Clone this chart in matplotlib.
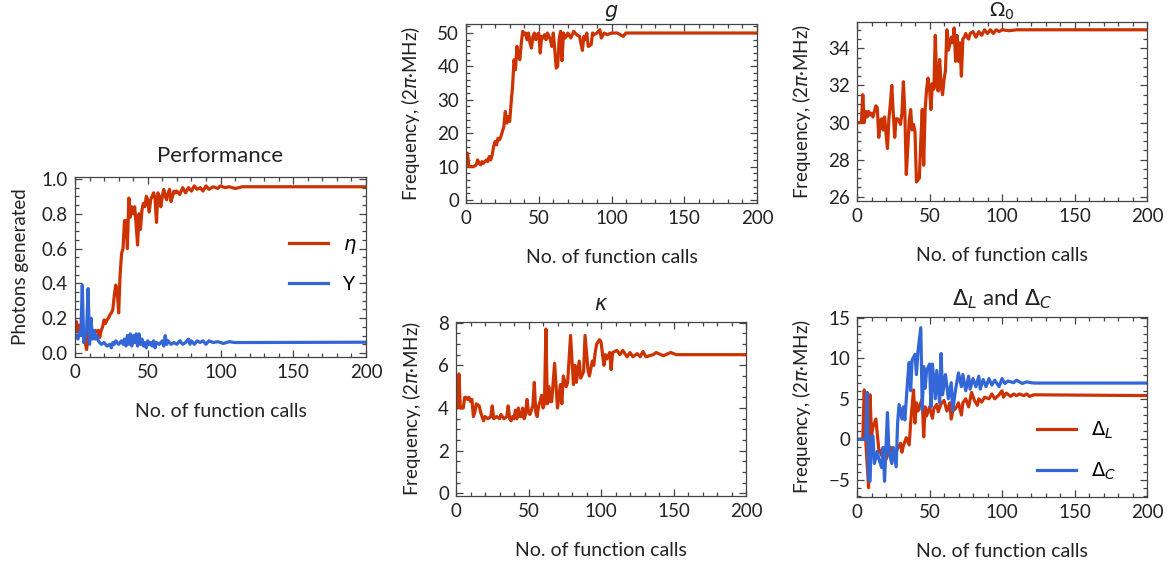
import numpy as np
import matplotlib.pyplot as plt
from matplotlib.ticker import MultipleLocator

plt.rcParams['font.family'] = ['Lato', 'DejaVu Sans']
plt.rcParams['mathtext.fontset'] = 'dejavusans'

RED = '#CC3300'
BLUE = '#3366D6'

# ---- Performance ----
eta_x = [0, 1, 2, 3, 4, 5, 6, 8, 9, 10, 11, 12, 13, 14, 15, 16, 17, 18, 19, 20,
         21, 22, 23, 24, 25, 26, 27, 28, 29, 30, 31, 32, 33, 34, 35, 36, 37, 38, 39, 40,
         41, 42, 43, 44, 45, 46, 47, 48, 49, 50, 51, 52, 53, 54, 55, 56, 57, 58, 59, 60,
         61, 62, 63, 64, 65, 66, 67, 68, 69, 70, 72, 74, 76, 78, 80, 82, 84, 86, 88, 90,
         92, 95, 98, 100, 103, 106, 110, 115, 200]
eta_y = [0.12, 0.18, 0.12, 0.16, 0.11, 0.13, 0.10, 0.02, 0.12, 0.10, 0.13, 0.12, 0.11, 0.13, 0.12, 0.13, 0.09, 0.13, 0.15, 0.19,
         0.17, 0.19, 0.20, 0.22, 0.23, 0.25, 0.33, 0.39, 0.36, 0.23, 0.45, 0.57, 0.60, 0.76, 0.76, 0.60, 0.89, 0.78, 0.84, 0.80,
         0.84, 0.74, 0.62, 0.80, 0.71, 0.82, 0.86, 0.84, 0.90, 0.88, 0.81, 0.88, 0.90, 0.92, 0.89, 0.75, 0.92, 0.90, 0.84, 0.90,
         0.94, 0.90, 0.88, 0.92, 0.94, 0.87, 0.90, 0.93, 0.92, 0.93, 0.91, 0.95, 0.92, 0.95, 0.93, 0.96, 0.94, 0.95, 0.93, 0.96,
         0.94, 0.955, 0.945, 0.96, 0.95, 0.955, 0.945, 0.955, 0.955]

Y_x = [0, 1, 2, 3, 4, 5, 6, 7, 8, 9, 10, 11, 12, 13, 14, 15, 16, 17, 18, 20,
       22, 24, 25, 26, 27, 28, 30, 32, 33, 34, 35, 36, 37, 38, 39, 40, 41, 42, 43, 44,
       45, 46, 47, 48, 49, 50, 51, 52, 53, 54, 55, 56, 58, 60, 61, 62, 63, 64, 66, 68,
       70, 72, 74, 76, 78, 79, 80, 82, 84, 86, 88, 90, 92, 95, 98, 102, 106, 110, 200]
Y_y = [0.09, 0.10, 0.08, 0.12, 0.10, 0.39, 0.06, 0.10, 0.14, 0.37, 0.05, 0.20, 0.08, 0.13, 0.08, 0.10, 0.07, 0.06, 0.05, 0.06,
       0.04, 0.05, 0.03, 0.06, 0.05, 0.07, 0.05, 0.07, 0.05, 0.08, 0.04, 0.10, 0.05, 0.11, 0.04, 0.10, 0.06, 0.11, 0.04, 0.11,
       0.05, 0.08, 0.04, 0.06, 0.03, 0.07, 0.05, 0.06, 0.04, 0.07, 0.03, 0.06, 0.05, 0.07, 0.04, 0.10, 0.05, 0.07, 0.05, 0.06,
       0.05, 0.07, 0.05, 0.06, 0.08, 0.05, 0.07, 0.05, 0.07, 0.06, 0.07, 0.05, 0.07, 0.06, 0.065, 0.055, 0.065, 0.06, 0.062]

# ---- g ----
g_x = [0, 1, 2, 3, 4, 5, 6, 7, 8, 9, 10, 11, 12, 13, 14, 15, 16, 17, 18, 19,
       20, 21, 22, 23, 24, 25, 26, 27, 28, 29, 30, 31, 32, 33, 34, 35, 36, 37, 38, 39,
       40, 41, 42, 43, 44, 45, 46, 47, 48, 49, 50, 51, 52, 53, 54, 55, 56, 57, 58, 59,
       60, 61, 62, 63, 64, 65, 66, 67, 68, 69, 70, 72, 74, 76, 78, 80, 81, 82, 83, 84,
       86, 87, 88, 90, 92, 93, 95, 97, 100, 104, 108, 110, 115, 200]
g_y = [14, 14, 10, 10, 10, 10, 10.2, 10.5, 12, 11, 10.5, 11.5, 11, 11.5, 12, 11.5, 13, 12, 13.5, 16,
       17.5, 16.5, 18.5, 18, 19, 20.5, 22, 26.5, 23, 25, 23.5, 29, 34, 42, 39, 46, 43, 42, 47, 50.5,
       49.5, 50, 48, 50, 47, 45.5, 49, 50, 48, 49.5, 50, 44, 49, 48.5, 49.5, 48, 50, 49, 48, 46,
       50, 45, 39.5, 40, 48, 50.5, 41.7, 50, 48.5, 49, 50, 48.5, 50.5, 49.5, 49, 44.8, 49, 48, 50, 46,
       46.5, 50, 49.5, 50, 51, 48.5, 50, 49.5, 50, 50, 49, 50, 50, 50]

# ---- Omega_0 ----
om_x = [0, 3, 4, 5, 6, 7, 8, 9, 10, 11, 12, 13, 14, 15, 16, 17, 18, 19, 20, 21,
        22, 23, 24, 25, 26, 27, 28, 29, 30, 31, 32, 33, 34, 35, 36, 37, 38, 39, 40, 41,
        42, 43, 44, 45, 46, 47, 48, 49, 50, 51, 52, 53, 54, 55, 56, 57, 58, 59, 60, 61,
        62, 63, 64, 65, 66, 67, 68, 69, 70, 71, 72, 73, 74, 75, 76, 77, 78, 80, 82, 84,
        86, 88, 90, 92, 94, 96, 98, 100, 105, 110, 120, 200]
om_y = [30.0, 30.0, 31.5, 30.0, 30.6, 30.3, 30.6, 30.4, 30.5, 30.3, 30.6, 30.9, 30.8, 29.2, 30.1, 30.2, 29.6, 30.3, 29.4, 28.6,
        30.2, 31.0, 32.0, 30.5, 29.2, 30.2, 30.2, 30.1, 29.9, 30.5, 32.2, 30.5, 27.2, 28.6, 30.1, 30.7, 29.6, 29.9, 29.5, 26.8,
        26.9, 27.0, 29.0, 30.7, 27.7, 30.7, 31.8, 32.4, 31.9, 30.7, 32.1, 31.8, 34.7, 32.0, 31.7, 33.4, 32.0, 31.5, 32.3, 32.8,
        35.0, 33.9, 34.2, 34.6, 34.3, 35.1, 33.3, 34.7, 33.3, 34.3, 32.5, 34.5, 34.6, 34.8, 34.6, 34.5, 34.8, 34.9, 34.6, 34.9,
        34.7, 35.0, 34.8, 35.0, 34.8, 35.0, 34.9, 35.0, 34.95, 35.0, 35.0, 35.0]

# ---- kappa ----
ka_x = [0, 1, 2, 3, 5, 6, 7, 8, 9, 10, 11, 12, 13, 14, 16, 17, 18, 19, 20, 22,
        24, 25, 26, 28, 30, 31, 32, 33, 35, 36, 37, 38, 39, 40, 41, 42, 43, 44, 45, 46,
        47, 48, 49, 50, 51, 52, 53, 54, 55, 56, 57, 58, 59, 60, 61, 62, 63, 64, 65, 66,
        68, 70, 72, 73, 74, 76, 77, 79, 81, 82, 83, 85, 86, 88, 89, 91, 92, 94, 95, 96,
        97, 99, 100, 102, 103, 104, 106, 107, 108, 111, 113, 115, 118, 120, 122, 125, 127, 129, 131, 136,
        138, 143, 148, 152, 200]
ka_y = [4.0, 4.0, 5.6, 4.0, 4.0, 4.5, 4.5, 4.4, 4.5, 4.3, 4.4, 3.6, 3.8, 4.2, 4.1, 3.8, 3.6, 3.4, 3.6, 3.5,
        3.6, 4.1, 3.5, 3.6, 3.5, 3.7, 3.6, 3.5, 3.6, 4.1, 3.5, 3.4, 3.6, 3.5, 3.9, 3.5, 4.0, 3.6, 3.6, 4.0,
        3.5, 3.7, 4.4, 3.8, 3.7, 3.9, 4.1, 5.2, 3.8, 3.6, 4.1, 4.3, 4.6, 4.0, 4.2, 7.7, 4.2, 5.0, 4.3, 4.3,
        6.1, 4.0, 5.1, 4.2, 5.5, 5.0, 5.2, 7.4, 5.1, 6.0, 5.2, 6.2, 5.4, 5.7, 7.4, 5.8, 5.5, 6.2, 6.0, 6.6,
        7.0, 7.2, 7.1, 6.0, 6.5, 6.3, 6.6, 5.8, 6.6, 6.7, 6.5, 6.7, 6.4, 6.6, 6.4, 6.55, 6.4, 6.65, 6.4, 6.5,
        6.6, 6.45, 6.6, 6.5, 6.5]

# ---- Delta_L / Delta_C ----
dl_x = [0, 4, 5, 6, 8, 9, 10, 11, 13, 15, 16, 17, 18, 20, 23, 25, 27, 30, 31, 32,
        34, 36, 37, 39, 40, 41, 42, 43, 45, 46, 47, 48, 50, 52, 53, 55, 56, 58, 60, 62,
        64, 65, 66, 68, 70, 72, 73, 75, 77, 79, 81, 83, 84, 86, 88, 91, 93, 95, 98, 100,
        101, 103, 106, 108, 110, 112, 115, 117, 119, 122, 200]
dl_y = [0, 0, 6.1, 0, -6.0, 5.5, 0.5, 1.5, 2.5, -1.2, -1.5, -2.0, -1.5, -2.5, -1.0, -2.0, -1.5, -0.5, -1.6, -0.8,
        0.2, -0.7, 2.0, 6.1, 2.0, 4.5, 3.5, 4.0, 5.0, 0.3, 4.0, 2.9, 4.0, 2.6, 3.8, 4.3, 3.4, 4.4, 4.8, 3.5,
        4.5, 2.5, 3.5, 3.8, 4.5, 3.0, 4.5, 5.0, 4.0, 5.8, 4.8, 4.2, 5.0, 4.6, 5.2, 5.0, 5.6, 5.0, 5.5, 6.0,
        5.2, 5.7, 5.3, 5.6, 5.4, 5.6, 5.4, 5.6, 5.3, 5.5, 5.4]

dc_x = [0, 6, 7, 8, 9, 10, 11, 12, 14, 15, 17, 18, 19, 21, 22, 24, 25, 27, 28, 29,
        31, 32, 33, 35, 36, 37, 38, 40, 41, 42, 44, 45, 46, 47, 48, 50, 51, 52, 54, 55,
        57, 58, 59, 61, 63, 65, 66, 68, 70, 72, 73, 75, 77, 78, 80, 82, 84, 85, 87, 89,
        91, 93, 95, 98, 100, 102, 104, 108, 110, 114, 117, 120, 122, 200]
dc_y = [0, 0, 5.8, -5.0, -5.2, 0.4, 0.4, -3.0, -1.5, -2.4, -3.5, -1.0, -5.2, 3.3, -1.5, -3.0, -1.0, -3.4, 2.0, 4.3,
        2.5, 4.0, 2.4, 7.5, 9.5, 6.0, 9.8, 10.5, 8.0, 10.8, 13.8, 3.6, 9.0, 6.3, 8.5, 9.3, 4.0, 9.3, 5.0, 8.5,
        4.5, 10.6, 5.5, 8.0, 5.0, 7.0, 3.5, 6.2, 8.2, 6.5, 8.0, 6.0, 7.8, 6.2, 7.5, 6.5, 7.8, 6.2, 7.4, 6.5,
        7.5, 6.7, 7.3, 6.5, 7.5, 6.9, 7.2, 7.0, 7.3, 6.9, 7.1, 7.0, 6.95, 6.95]

freq_label = 'Frequency, (2$\\pi$\u00b7MHz)'

fig = plt.figure(figsize=(11.75, 5.7), dpi=100)
W, H = 1175, 570


def make_ax(left, top, right, bottom):
    return fig.add_axes([left / W, 1 - bottom / H, (right - left) / W, (bottom - top) / H])


def style(ax, ylim, ymaj, ymin):
    ax.set_xlim(0, 200)
    ax.set_ylim(*ylim)
    ax.xaxis.set_major_locator(MultipleLocator(50))
    ax.xaxis.set_minor_locator(MultipleLocator(10))
    ax.yaxis.set_major_locator(MultipleLocator(ymaj))
    ax.yaxis.set_minor_locator(MultipleLocator(ymin))
    ax.tick_params(which='both', direction='in', top=True, right=True,
                   color='#444444', width=0.9, labelsize=13.5, labelcolor='#222222', pad=5)
    ax.tick_params(which='major', length=5)
    ax.tick_params(which='minor', length=3)
    for s in ax.spines.values():
        s.set_color('#444444')
        s.set_linewidth(0.9)
    ax.set_xlabel('No. of function calls', fontsize=14, color='#222222', labelpad=16)


lw = 2.3
tcol = '#222222'

ax1 = make_ax(75, 177, 366, 357)
ax1.plot(eta_x, eta_y, color=RED, lw=lw, label='$\\eta$')
ax1.plot(Y_x, Y_y, color=BLUE, lw=lw, label='Y')
style(ax1, (-0.023, 1.011), 0.2, 0.05)
ax1.yaxis.set_major_formatter(plt.FuncFormatter(lambda v, p: f'{v:.1f}'))
ax1.set_ylabel('Photons generated', fontsize=13.5, color=tcol, labelpad=9)
ax1.set_title('Performance', fontsize=16, color=tcol, pad=11)
ax1.legend(loc='center left', bbox_to_anchor=(0.735, 0.515), frameon=False, fontsize=14,
           handlelength=2.0, handletextpad=0.8, labelspacing=1.0, borderpad=0, borderaxespad=0)

ax2 = make_ax(466, 24, 757, 203)
ax2.plot(g_x, g_y, color=RED, lw=lw)
style(ax2, (-0.9, 52.7), 10, 2)
ax2.set_ylabel(freq_label, fontsize=13.5, color=tcol, labelpad=11)
ax2.set_title('$g$', fontsize=15, color=tcol, pad=5)

ax3 = make_ax(857, 22, 1147, 201)
ax3.plot(om_x, om_y, color=RED, lw=lw)
style(ax3, (25.77, 35.42), 2, 0.5)
ax3.set_ylabel(freq_label, fontsize=13.5, color=tcol, labelpad=11)
ax3.set_title('$\\Omega_0$', fontsize=14.5, color=tcol, pad=2)

ax4 = make_ax(456, 322, 746, 496)
ax4.plot(ka_x, ka_y, color=RED, lw=lw)
style(ax4, (-0.12, 8.03), 2, 0.5)
ax4.set_ylabel(freq_label, fontsize=13.5, color=tcol, labelpad=11)
ax4.set_title('$\\kappa$', fontsize=15, color=tcol, pad=9)

ax5 = make_ax(857, 317, 1147, 497)
ax5.plot(dl_x, dl_y, color=RED, lw=lw, label='$\\Delta_L$')
ax5.plot(dc_x, dc_y, color=BLUE, lw=lw, label='$\\Delta_C$')
style(ax5, (-7.14, 15.12), 5, 1)
ax5.set_ylabel(freq_label, fontsize=13.5, color=tcol, labelpad=11)
ax5.set_title('$\\Delta_L$ and $\\Delta_C$', fontsize=16, color=tcol, pad=8)
ax5.legend(loc='center left', bbox_to_anchor=(0.62, 0.255), frameon=False, fontsize=14,
           handlelength=2.0, handletextpad=0.8, labelspacing=1.0, borderpad=0, borderaxespad=0)

fig.savefig('out.png', dpi=100)
